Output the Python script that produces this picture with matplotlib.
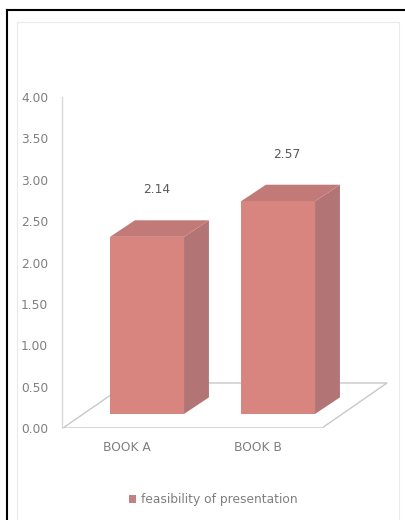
import matplotlib
matplotlib.use("Agg")
import matplotlib.pyplot as plt
from matplotlib.patches import Polygon, Patch, Rectangle
from matplotlib.lines import Line2D
import numpy as np

books = ["BOOK A", "BOOK B"]
feasibility = [2.14, 2.57]
serie_name = "feasibility of presentation"
y_ticks = [0.0, 0.5, 1.0, 1.5, 2.0, 2.5, 3.0, 3.5, 4.0]

# kolory ścian słupka (przód, bok, góra)
c_front = "#d9857f"
c_side = "#b27474"
c_top = "#c17a78"
c_text = "#7f7f7f"
fs = 8.8

fig = plt.figure(figsize=(4.06, 5.2), dpi=100)
fig.patch.set_facecolor("white")

W, H = 406.0, 520.0
ax = fig.add_axes([62 / W, 1 - 428 / H, 338 / W, 331 / H])
ax.set_xlim(-0.649, 1.931)
ax.set_ylim(0, 4)

# parametry "3D"
w = 0.565      # szerokość przedniej ściany
dx, dy = 0.19, 0.20   # głębokość słupka
y0 = 0.17      # podstawa przedniej ściany
fdx, fdy = 0.496, 0.544  # głębokość podłogi

# podłoga
fl, fr = -0.641, 1.336
floor = Polygon([(fl, 0), (fr, 0), (fr + fdx, fdy), (fl + fdx, fdy)], closed=True,
                facecolor="white", edgecolor="#c8c8c8", lw=1.0, zorder=1)
ax.add_patch(floor)

for i, v in enumerate(feasibility):
    x1, x2 = i - w / 2, i + w / 2
    top = y0 + v
    side = Polygon([(x2, y0), (x2 + dx, y0 + dy), (x2 + dx, top + dy), (x2, top)],
                   closed=True, facecolor=c_side, edgecolor="none", zorder=3)
    roof = Polygon([(x1, top), (x2, top), (x2 + dx, top + dy), (x1 + dx, top + dy)],
                   closed=True, facecolor=c_top, edgecolor="none", zorder=3)
    front = Rectangle((x1, y0), w, v, facecolor=c_front, edgecolor="none", zorder=4)
    ax.add_patch(side)
    ax.add_patch(roof)
    ax.add_patch(front)
    ax.text(i + 0.07, top + dy + 0.37, f"{v:.2f}", ha="center", va="center",
            fontsize=fs, color="#595959")
    ax.text(i - 0.153, -0.23, books[i], ha="center", va="center",
            fontsize=fs, color=c_text, clip_on=False)

ax.set_yticks(y_ticks)
ax.set_yticklabels([f"{t:.2f}" for t in y_ticks], fontsize=fs, color=c_text)
ax.tick_params(axis="y", length=0, pad=10)
ax.set_xticks([])
for s in ["top", "right", "bottom"]:
    ax.spines[s].set_visible(False)
ax.spines["left"].set_color("#d9d9d9")
ax.spines["left"].set_linewidth(1.0)

leg = fig.legend(handles=[Patch(facecolor="#c08282", edgecolor="none", label=serie_name)],
                 loc="center", bbox_to_anchor=(213 / W, 1 - 500 / H), frameon=False,
                 fontsize=fs, handlelength=0.6, handleheight=0.6, handletextpad=0.4)
for t in leg.get_texts():
    t.set_color(c_text)

# ramka
fig.add_artist(Line2D([7 / W, 7 / W], [0, 1 - 10 / H], color="black", lw=1.5))
fig.add_artist(Line2D([7 / W, 1], [1 - 10 / H, 1 - 10 / H], color="black", lw=1.5))
fig.add_artist(Rectangle((17 / W, -0.01), 382 / W, 1 - 22 / H + 0.01, fill=False,
                         edgecolor="#ebebeb", lw=0.8, transform=fig.transFigure))

fig.savefig("out.png", dpi=100)
